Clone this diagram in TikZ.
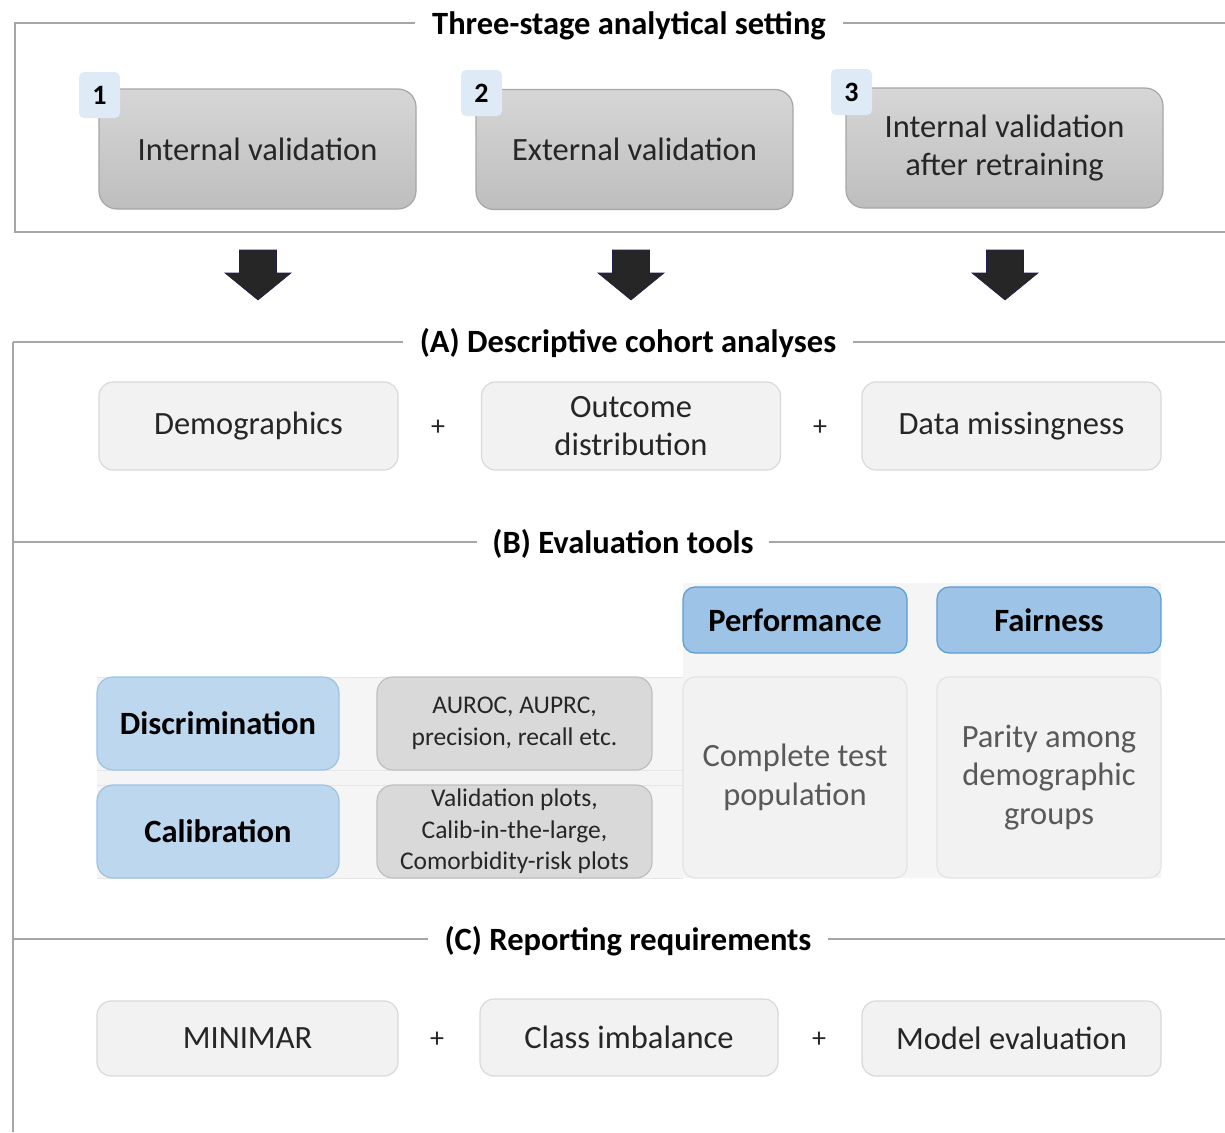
\documentclass[tikz,border=0pt]{standalone}
\usepackage{fontspec}
\setmainfont{Carlito}
\usetikzlibrary{calc}
\definecolor{framegray}{HTML}{A6A6A6}
\definecolor{stagetop}{HTML}{D6D6D6}
\definecolor{stagebot}{HTML}{BEBEBE}
\definecolor{stageline}{HTML}{A6A6A6}
\definecolor{badgefill}{HTML}{DEEBF7}
\definecolor{lightfill}{HTML}{F2F2F2}
\definecolor{lightline}{HTML}{D9D9D9}
\definecolor{panelbg}{HTML}{F5F5F5}
\definecolor{stripline}{HTML}{E6E6E6}
\definecolor{headfill}{HTML}{9DC3E6}
\definecolor{headline}{HTML}{5B9BD5}
\definecolor{discfill}{HTML}{BDD7EE}
\definecolor{discline}{HTML}{9DC3E6}
\definecolor{metfill}{HTML}{D9D9D9}
\definecolor{metline}{HTML}{BFBFBF}
\definecolor{txt}{HTML}{262626}
\definecolor{softtxt}{HTML}{595959}
\definecolor{arrowfill}{HTML}{262626}
\begin{document}
\begin{tikzpicture}[x=1pt,y=-1pt,
  bodyfont/.style={font=\fontsize{32.5}{38.5}\selectfont},
  titlefont/.style={font=\bfseries\fontsize{32.5}{38.5}\selectfont},
  frameline/.style={draw=framegray, line width=1.6pt},
  sectitle/.style={titlefont, fill=white, text=black, inner xsep=0pt, inner ysep=2pt},
  stagebox/.style={bodyfont, text=txt, align=center, draw=stageline, line width=1.2pt,
    rounded corners=18pt, top color=stagetop, bottom color=stagebot,
    minimum width=317pt, minimum height=120pt},
  badge/.style={font=\bfseries\fontsize{28}{30}\selectfont, text=black, fill=badgefill,
    rounded corners=5pt, minimum width=41pt, minimum height=46pt, inner sep=0pt},
  lightbox/.style={bodyfont, text=txt, align=center, fill=lightfill, draw=lightline,
    line width=1.2pt, rounded corners=14pt, inner sep=0pt},
  plus/.style={font=\fontsize{28}{30}\selectfont, text=txt},
  headbox/.style={titlefont, text=black, fill=headfill, draw=headline, line width=1.2pt,
    rounded corners=12pt, minimum width=224pt, minimum height=66pt, inner sep=0pt},
  colbox/.style={bodyfont, text=softtxt, align=center, fill=lightfill, draw=lightline!70,
    line width=1.2pt, rounded corners=12pt, minimum width=224pt, minimum height=201pt, inner sep=0pt},
  discbox/.style={titlefont, text=black, fill=discfill, draw=discline, line width=1.2pt,
    rounded corners=16pt, minimum width=242pt, minimum height=93pt, inner sep=0pt},
  metbox/.style={font=\fontsize{25.5}{31.5}\selectfont, text=txt, align=center, fill=metfill,
    draw=metline, line width=1.2pt, rounded corners=16pt, minimum width=275pt,
    minimum height=93pt, inner sep=0pt},
  blockarrow/.style={fill=arrowfill, draw=arrowfill!80!blue, line width=0.6pt},
  strip/.style={draw=stripline, line width=1pt}
]
\useasboundingbox (0,0) rectangle (1225,1132);

% ---------- top frame ----------
\draw[frameline] (1225,23) -- (15,23) -- (15,232) -- (1225,232);
\node[sectitle, inner xsep=17pt] (ttop) at (629,26) {Three-stage analytical setting};

\node[stagebox] (s1) at (257.5,149) {Internal validation};
\node[stagebox] (s2) at (634.5,149.5) {External validation};
\node[stagebox] (s3) at (1004.5,148) {Internal validation\\after retraining};
\node[badge] (b1) at (99.5,95) {1};
\node[badge] (b2) at (481.5,93) {2};
\node[badge] (b3) at (851.5,92) {3};

% ---------- block arrows ----------
\foreach \xx in {258,631,1005}{
  \draw[blockarrow] (\xx-18.5,250) -- (\xx+18.5,250) -- (\xx+18.5,273) -- (\xx+33,273)
    -- (\xx,300) -- (\xx-33,273) -- (\xx-18.5,273) -- cycle;
}

% ---------- left spine and section lines ----------
\draw[frameline] (13,342) -- (13,1132);
\draw[frameline] (13,342) -- (1225,342);
\draw[frameline] (13,542) -- (1225,542);
\draw[frameline] (13,939) -- (1225,939);
\node[sectitle, inner xsep=17pt] (ta) at (628,343) {(A) Descriptive cohort analyses};
\node[sectitle, inner xsep=15pt] (tb) at (623,544) {(B) Evaluation tools};
\node[sectitle, inner xsep=17pt] (tc) at (628,941) {(C) Reporting requirements};

% ---------- section A ----------
\node[lightbox, minimum width=299pt, minimum height=88pt] (a1) at (248.5,426) {Demographics};
\node[lightbox, minimum width=299pt, minimum height=88pt] (a2) at (631,426) {Outcome\\distribution};
\node[lightbox, minimum width=299pt, minimum height=88pt] (a3) at (1011.5,426) {Data missingness};
\node[plus] (pa1) at (438,428) {+};
\node[plus] (pa2) at (820,428) {+};

% ---------- section B ----------
\fill[panelbg] (97,677) -- (683,677) -- (683,583) -- (1161,583) -- (1161,878) -- (97,878) -- cycle;
\draw[strip] (97,677) -- (683,677);
\draw[strip] (97,770) -- (683,770);
\draw[strip] (97,785) -- (683,785);
\draw[strip] (97,878) -- (683,878);
\node[headbox] (perf) at (795,620) {Performance};
\node[headbox] (fair) at (1049,620) {Fairness};
\node[colbox] (comp) at (795,777.5) {Complete test\\population};
\node[colbox] (par) at (1049,777.5) {Parity among\\demographic\\groups};
\node[discbox] (disc) at (218,723.5) {Discrimination};
\node[discbox] (cal) at (218,831.5) {Calibration};
\node[metbox] (m1) at (514.5,723.5) {AUROC, AUPRC,\\precision, recall etc.};
\node[metbox] (m2) at (514.5,831.5) {Validation plots,\\Calib-in-the-large,\\Comorbidity-risk plots};

% ---------- section C ----------
\node[lightbox, minimum width=301pt, minimum height=75pt] (c1) at (247.5,1038.5) {MINIMAR};
\node[lightbox, minimum width=298pt, minimum height=77pt] (c2) at (629,1037.5) {Class imbalance};
\node[lightbox, minimum width=299pt, minimum height=75pt] (c3) at (1011.5,1038.5) {Model evaluation};
\node[plus] (pc1) at (437,1040) {+};
\node[plus] (pc2) at (819,1040) {+};
\end{tikzpicture}
\end{document}
